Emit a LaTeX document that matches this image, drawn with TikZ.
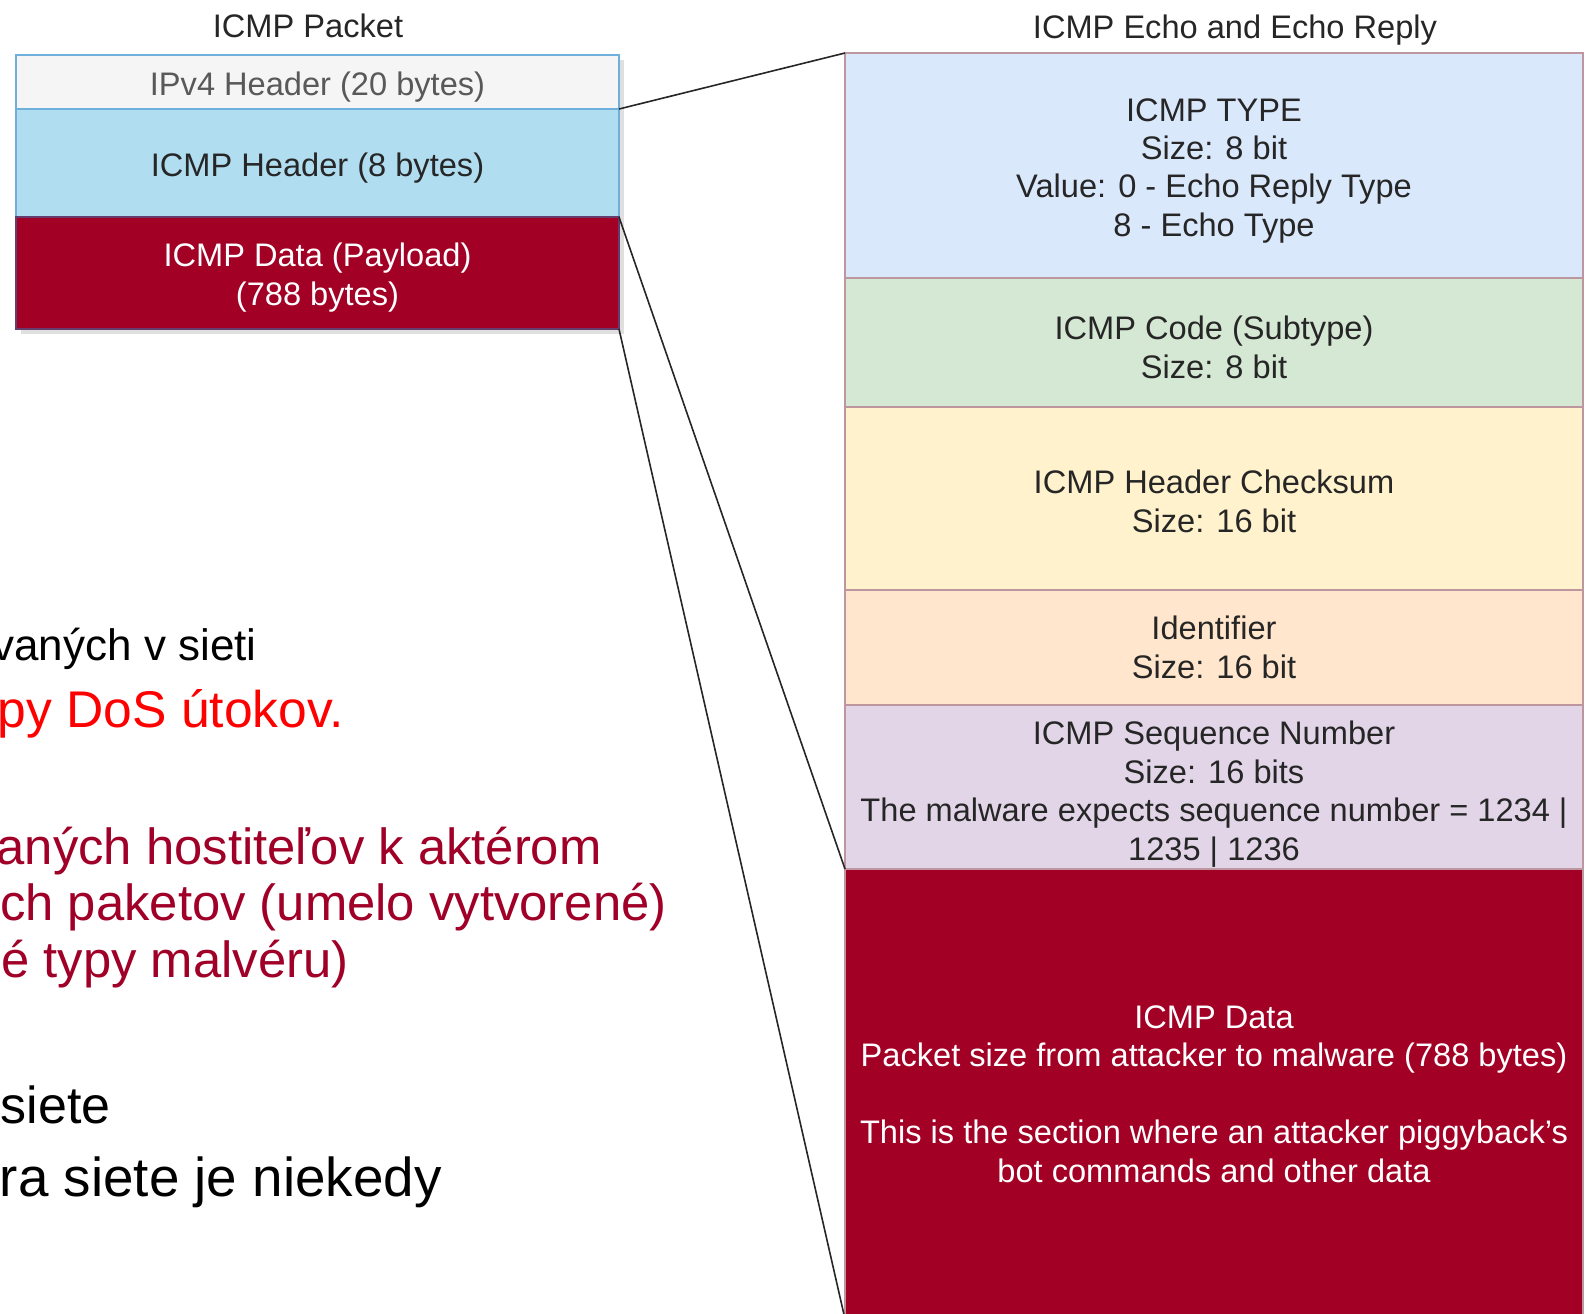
\documentclass[tikz,border=0pt]{standalone}
\usepackage{fontspec}
\setmainfont{Liberation Sans}
\usepackage{xcolor}
\usepackage{tikz}
\usetikzlibrary{positioning,shadows}

\definecolor{ipgray}{RGB}{245,245,245}
\definecolor{hdrblue}{RGB}{177,221,240}
\definecolor{edgeblue}{RGB}{110,175,220}
\definecolor{payred}{RGB}{162,0,37}
\definecolor{payedge}{RGB}{100,60,110}
\definecolor{typeblue}{RGB}{218,232,252}
\definecolor{codegreen}{RGB}{213,232,212}
\definecolor{sumyellow}{RGB}{255,242,204}
\definecolor{idorange}{RGB}{255,230,204}
\definecolor{seqlilac}{RGB}{225,213,231}
\definecolor{fieldedge}{RGB}{190,150,160}
\definecolor{slidered}{RGB}{160,0,40}

\newcommand{\diafont}{\fontsize{16.3}{19.2}\selectfont}
\newcommand{\lowstrut}[1][16.5pt]{\rule{0pt}{#1}}

\begin{document}
\begin{tikzpicture}[
        x=0.5pt, y=-0.5pt,
        node distance=0pt,
        title/.style={inner sep=0pt, font=\diafont, text=black!85},
        pktfield/.style={rectangle, draw=edgeblue, line width=0.6pt, minimum width=301.5pt, inner sep=0pt, outer sep=0pt, align=center, font=\diafont, text=black!85,
            drop shadow={shadow xshift=2.5pt, shadow yshift=-2.5pt, opacity=0.25}},
        echofield/.style={rectangle, draw=fieldedge, line width=0.7pt, minimum width=369pt, inner sep=0pt, outer sep=0pt, align=center, font=\diafont, text=black!85},
        slidetext/.style={anchor=base east, inner sep=0pt},
        link/.style={line width=0.8pt, black!85}
    ]
        \useasboundingbox (0,0) rectangle (1585,1313);
        \clip (0,0) rectangle (1585,1313);

        % Slide text behind the diagram
        \node[slidetext, font=\fontsize{22}{22}\selectfont] (line1) at (257,660) {vaných v sieti};
        \node[slidetext, text=red, font=\fontsize{25.8}{25.8}\selectfont] (line2) at (344,727) {py DoS útokov.};
        \node[slidetext, text=slidered, font=\fontsize{25.4}{25.4}\selectfont] (line3) at (602,864) {aných hostiteľov k aktérom};
        \node[slidetext, text=slidered, font=\fontsize{25.4}{25.4}\selectfont] (line4) at (667,920) {ch paketov (umelo vytvorené)};
        \node[slidetext, text=slidered, font=\fontsize{25.4}{25.4}\selectfont] (line5) at (349,977) {é typy malvéru)};
        \node[slidetext, font=\fontsize{26}{26}\selectfont] (line6) at (111,1123) {siete};
        \node[slidetext, font=\fontsize{27.4}{27.4}\selectfont] (line7) at (442,1196) {ra siete je niekedy};

        % ICMP packet
        \node[title] (pkttitle) at (308,26) {ICMP Packet};
        \node[pktfield, fill=ipgray, text=black!65, minimum height=27pt, anchor=north west] (ipv4) at (16,55) {\lowstrut IPv4 Header (20 bytes)};
        \node[pktfield, fill=hdrblue, minimum height=54pt, below=of ipv4] (hdr) {\lowstrut ICMP Header (8 bytes)};
        \node[pktfield, fill=payred, draw=payedge, text=white, minimum height=56pt, below=of hdr] (data) {\lowstrut ICMP Data (Payload)\\(788 bytes)};

        % Echo / Echo Reply fields
        \node[title] (echotitle) at (1235,30) {ICMP Echo and Echo Reply};
        \node[echofield, fill=typeblue, minimum height=112.5pt, anchor=north west] (type) at (845,53) {\lowstrut ICMP TYPE\\Size: 8 bit\\Value: 0 - Echo Reply Type\\8 - Echo Type};
        \node[echofield, fill=codegreen, minimum height=64.5pt, below=of type] (code) {\lowstrut ICMP Code (Subtype)\\Size: 8 bit};
        \node[echofield, fill=sumyellow, minimum height=91.5pt, below=of code] (csum) {\lowstrut[14.5pt]ICMP Header Checksum\\Size: 16 bit};
        \node[echofield, fill=idorange, minimum height=57.5pt, below=of csum] (ident) {Identifier\\Size: 16 bit};
        \node[echofield, fill=seqlilac, minimum height=82pt, below=of ident] (seq) {\lowstrut[19pt]ICMP Sequence Number\\Size: 16 bits\\The malware expects sequence number = 1234 |\\1235 | 1236};
        \node[echofield, fill=payred, text=white, minimum height=225pt, below=of seq] (rdata) {ICMP Data\\Packet size from attacker to malware (788 bytes)\\[19.2pt]This is the section where an attacker piggyback's\\bot commands and other data};

        % Connections
        \draw[link] (hdr.north east) -- (type.north west);
        \draw[link] (hdr.south east) -- (seq.south west);
        \draw[link] (data.south east) -- (rdata.south west);
    \end{tikzpicture}
\end{document}
